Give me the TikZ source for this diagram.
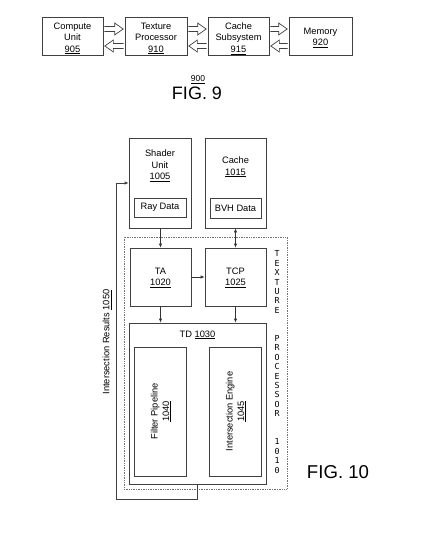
\documentclass[tikz,border=0pt]{standalone}
\usepackage{fontspec}
\setmainfont{Liberation Sans}
\newfontfamily\monofnt{DejaVu Sans Mono}
\usetikzlibrary{arrows.meta,calc}
\tikzset{
  box/.style={draw=black!75, line width=0.7pt, inner sep=0pt, align=center},
  outerbox/.style={draw=black!55, line width=0.7pt, densely dotted, inner sep=0pt},
  lbl/.style={inner sep=0pt, align=center, font=\fontsize{9.3}{11.4}\selectfont},
  fatR/.style={draw=black!75, line width=0.7pt, line join=miter,
    to path={let \p1=(\tikztostart), \p2=(\tikztotarget) in
      (\x1+1pt,\y1+2.5pt) -- (\x2-10pt,\y1+2.5pt) -- (\x2-10pt,\y1+6pt) -- (\x2-1.5pt,\y1)
      -- (\x2-10pt,\y1-6pt) -- (\x2-10pt,\y1-2.5pt) -- (\x1+1pt,\y1-2.5pt)}},
  fatL/.style={draw=black!75, line width=0.7pt, line join=miter,
    to path={let \p1=(\tikztostart), \p2=(\tikztotarget) in
      (\x1-1pt,\y1+2.5pt) -- (\x2+10pt,\y1+2.5pt) -- (\x2+10pt,\y1+6pt) -- (\x2+1.5pt,\y1)
      -- (\x2+10pt,\y1-6pt) -- (\x2+10pt,\y1-2.5pt) -- (\x1-1pt,\y1-2.5pt)}},
  conn/.style={draw=black!80, line width=0.7pt, -{Latex[length=4pt,width=3.5pt]}},
  conn2/.style={draw=black!80, line width=0.7pt, {Latex[length=4pt,width=3.5pt]}-{Latex[length=4pt,width=3.5pt]}},
  fb/.style={draw=black!75, line width=0.7pt},
}
\begin{document}
\begin{tikzpicture}[x=1pt,y=-1pt]
\useasboundingbox (0,0) rectangle (445,551);
% ---------- FIG 9 ----------
\node[box, minimum width=61pt, minimum height=38pt] (cu) at (72.5,36) {};
\node[lbl] (culbl) at (72.5,38.5) {Compute\\Unit\\\underline{905}};
\node[box, minimum width=62pt, minimum height=38pt] (tp) at (156,36) {};
\node[lbl] (tplbl) at (156,38.5) {Texture\\Processor\\\underline{910}};
\node[box, minimum width=61pt, minimum height=38pt] (cs) at (238.5,36) {};
\node[lbl] (cslbl) at (238.5,38.5) {Cache\\Subsystem\\\underline{915}};
\node[box, minimum width=63pt, minimum height=38pt] (mem) at (320.5,36) {};
\node[lbl] (memlbl) at (320.5,38) {Memory\\\underline{920}};
\draw[fatR] (cu.east |- 0,29) to (tp.west |- 0,29);
\draw[fatL] (tp.west |- 0,46) to (cu.east |- 0,46);
\draw[fatR] (tp.east |- 0,29) to (cs.west |- 0,29);
\draw[fatL] (cs.west |- 0,46) to (tp.east |- 0,46);
\draw[fatR] (cs.east |- 0,29) to (mem.west |- 0,29);
\draw[fatL] (mem.west |- 0,46) to (cs.east |- 0,46);
\node[inner sep=0pt, font=\fontsize{8.5}{10}\selectfont] (n900) at (198,80) {\underline{900}};
\node[inner sep=0pt, font=\fontsize{18}{20}\selectfont] (fig9) at (197,93) {FIG. 9};
% ---------- FIG 10 ----------
\node[outerbox, minimum width=163pt, minimum height=252pt] (tpx) at (205.5,363) {};
\node[box, minimum width=62pt, minimum height=90pt] (su) at (160,183) {};
\node[lbl] (sulbl) at (160,166) {Shader\\Unit\\\underline{1005}};
\node[box, lbl, minimum width=52pt, minimum height=19pt] (rd) at (160,207.5) {Ray Data};
\node[box, minimum width=61pt, minimum height=90pt] (ca) at (235.5,183) {};
\node[lbl] (calbl) at (235.5,167) {Cache\\\underline{1015}};
\node[box, lbl, minimum width=51pt, minimum height=20pt] (bvh) at (235.5,208) {BVH Data};
\node[box, minimum width=61pt, minimum height=58pt] (ta) at (160.5,277) {};
\node[lbl] (talbl) at (160.5,278) {TA\\\underline{1020}};
\node[box, minimum width=61pt, minimum height=58pt] (tcp) at (235.5,277) {};
\node[lbl] (tcplbl) at (235.5,278) {TCP\\\underline{1025}};
\node[box, minimum width=137pt, minimum height=161pt] (td) at (197.5,403.5) {};
\node[lbl] (tdlbl) at (197.5,335) {TD \underline{1030}};
\node[box, minimum width=52pt, minimum height=129pt] (fp) at (160,411.5) {};
\node[lbl, rotate=90] (fplbl) at (161,411.5) {Filter Pipeline\\\underline{1040}};
\node[box, minimum width=52pt, minimum height=129pt] (ie) at (235,411.5) {};
\node[lbl, rotate=90] (ielbl) at (236,411.5) {Intersection Engine\\\underline{1045}};
\node[inner sep=0pt, align=center, font=\monofnt\fontsize{8.3}{9.4}\selectfont] (tpxlbl) at (277,362)
  {T\\E\\X\\T\\U\\R\\E\\[18.8pt]P\\R\\O\\C\\E\\S\\S\\O\\R\\[18.8pt]1\\0\\1\\0};
\node[lbl, rotate=90] (irlbl) at (107,342) {Intersection Results \underline{1050}};
\node[inner sep=0pt, font=\fontsize{18.6}{20}\selectfont] (fig10) at (338,472) {FIG. 10};
% connectors
\draw[conn] (su.south -| ta.north) -- (ta.north);
\draw[conn2] (ca.south -| tcp.north) -- (tcp.north);
\draw[conn] (ta.east) -- (tcp.west);
\draw[conn] (ta.south) -- (ta.south |- td.north);
\draw[conn] (tcp.south) -- (tcp.south |- td.north);
\coordinate (fb1) at (197.5,499);
\coordinate (fb2) at (116,499);
\coordinate (fb3) at (116,183);
\draw[fb, -{Latex[length=4pt,width=3.5pt]}] (td.south) -- (fb1) -- (fb2) -- (fb3) -- (su.west);
\end{tikzpicture}
\end{document}
